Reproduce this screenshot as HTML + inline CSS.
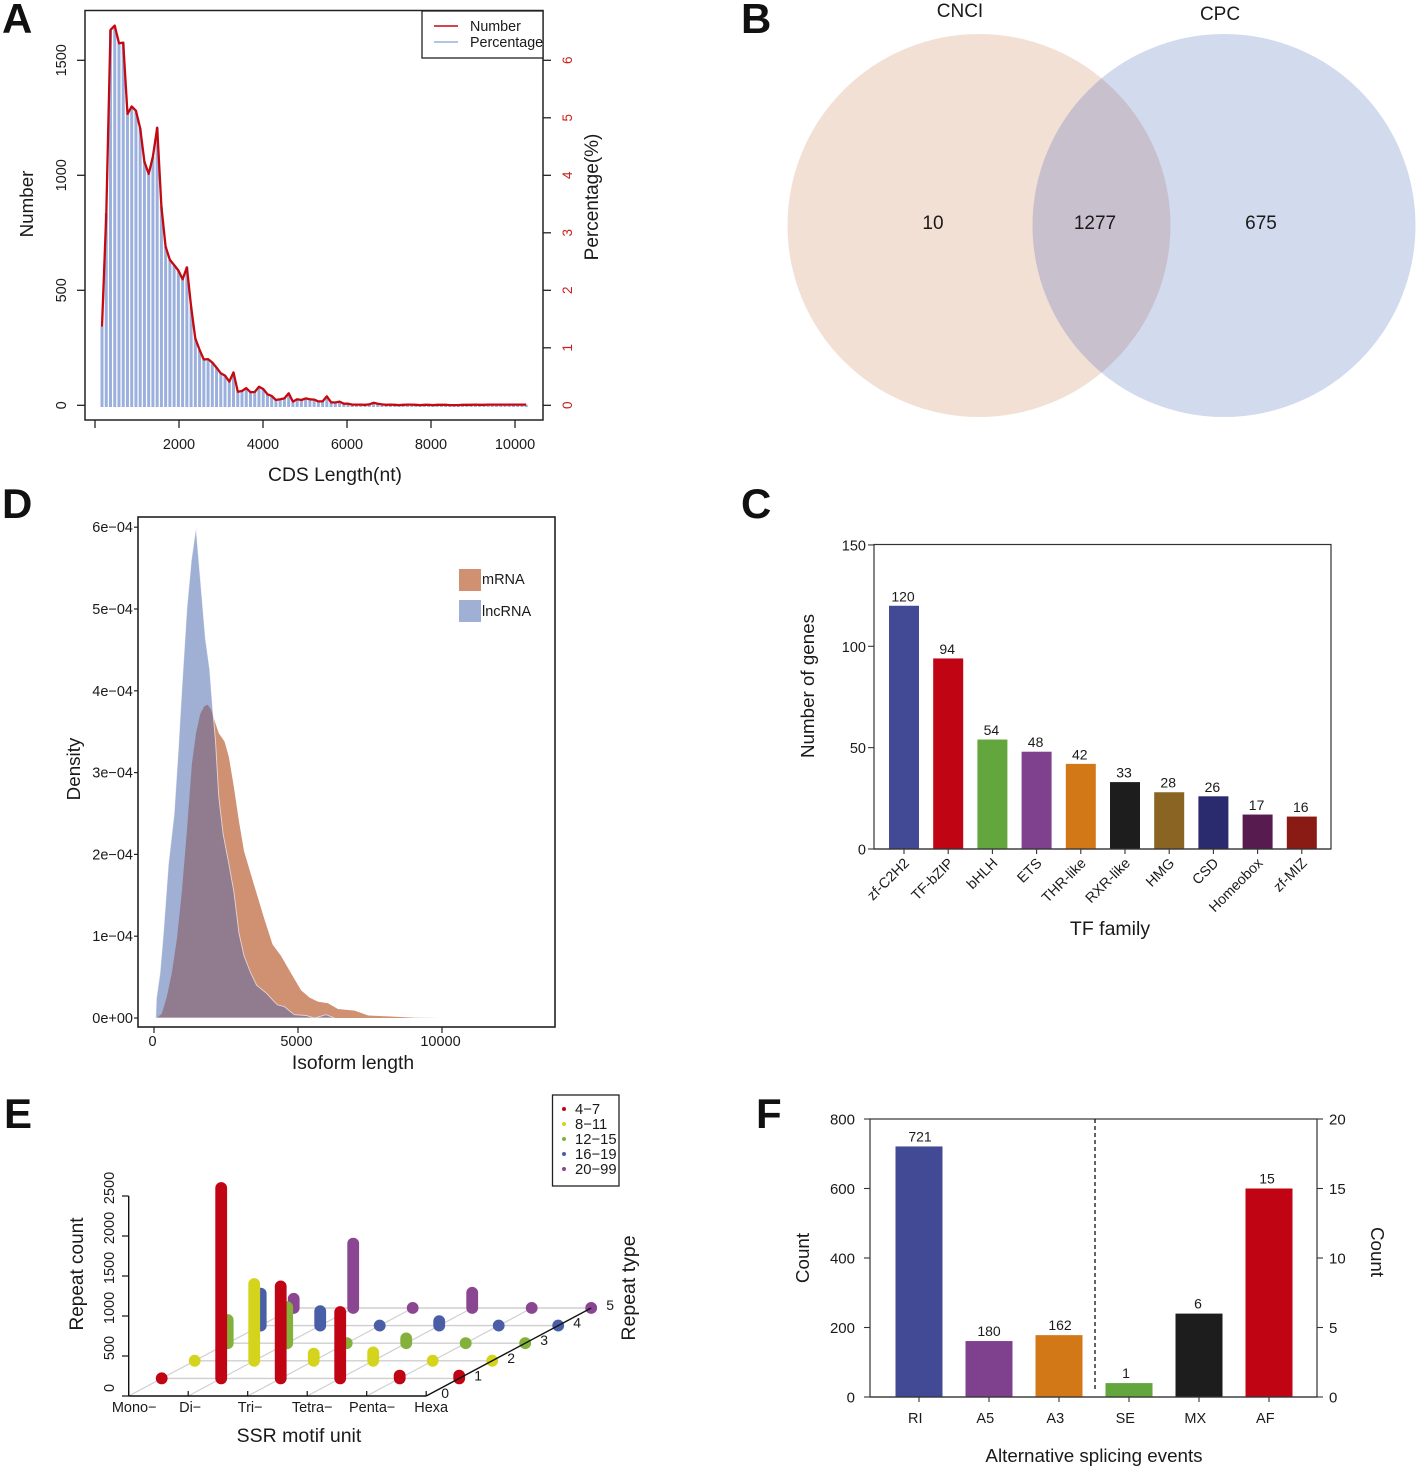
<!DOCTYPE html>
<html lang="en">
<head>
<meta charset="utf-8">
<title>Transcript analysis figure</title>
<style>
html,body{margin:0;padding:0;background:#fff;width:1418px;height:1469px;overflow:hidden}
svg{display:block}
text{font-family:"Liberation Sans",Arial,sans-serif;fill:#1a1a1a}
.letter{font-size:42px;font-weight:700;fill:#111}
</style>
</head>
<body>
<svg id="fig" xmlns="http://www.w3.org/2000/svg" width="1418" height="1469" viewBox="0 0 1418 1469">
  <defs>
    <clipPath id="venn-left-clip"><circle cx="979" cy="225.500" r="191.500"/></clipPath>
  </defs>
  <rect x="0" y="0" width="1418" height="1469" fill="#fff"/>

  <text class="letter" x="2" y="33">A</text>
  <text class="letter" x="741" y="33">B</text>
  <text class="letter" x="741" y="518">C</text>
  <text class="letter" x="2" y="518">D</text>
  <text class="letter" x="4" y="1128">E</text>
  <text class="letter" x="756" y="1128">F</text>

  <g id="panel-a"></g>

  <g id="panel-b">
    <circle cx="979" cy="225.500" r="191.500" fill="#f2e0d5"/>
    <circle cx="1224" cy="225.500" r="191.500" fill="#d2daee"/>
    <circle cx="1224" cy="225.500" r="191.500" fill="#c9c0cd" clip-path="url(#venn-left-clip)"/>
    <text x="960" y="17" font-size="19" text-anchor="middle">CNCI</text>
    <text x="1220" y="20" font-size="19" text-anchor="middle">CPC</text>
    <text x="933" y="229" font-size="19" text-anchor="middle">10</text>
    <text x="1095" y="229" font-size="19" text-anchor="middle">1277</text>
    <text x="1261" y="229" font-size="19" text-anchor="middle">675</text>
  </g>

  <g id="panel-c"></g>
  <g id="panel-d"></g>
  <g id="panel-e"></g>
  <g id="panel-f"></g>
</svg>

<script>
/* ---------- Panel A data ---------- */
const cdsNumber = [342,835,1632,1651,1574,1577,1267,1299,1281,1204,1059,1006,1081,1207,864,690,632,610,586,548,600,429,291,241,199,201,186,164,139,129,103,143,59,62,75,57,58,81,71,48,41,23,26,30,52,16,26,23,30,26,25,17,17,39,13,12,16,7,7,3,3,3,2,4,11,7,4,2,3,2,1,2,3,3,2,1,2,2,1,2,2,2,1,1,1,2,2,2,3,2,2,3,3,3,3,3,3,3,3,3,3];
const cdsPercent = [1.37,3.34,6.53,6.60,6.30,6.31,5.07,5.20,5.12,4.82,4.24,4.02,4.32,4.83,3.46,2.76,2.53,2.44,2.34,2.19,2.40,1.72,1.16,.96,.80,.80,.74,.66,.56,.52,.41,.57,.24,.25,.30,.23,.23,.32,.28,.19,.16,.09,.10,.12,.21,.06,.10,.09,.12,.10,.10,.07,.07,.16,.05,.05,.06,.03,.03,.01,.01,.01,.01,.02,.04,.03,.02,.01,.01,.01,.01,.01,.01,.01,.01,.01,.01,.01,.01,.01,.01,.01,.01,.01,.01,.01,.01,.01,.01,.01,.01,.01,.01,.01,.01,.01,.01,.01,.01,.01,.01];
const cdsStart = 167;
const cdsStep = 101;
const cdsXTicks = [0,2000,4000,6000,8000,10000];
const cdsXTickLabels = ["","2000","4000","6000","8000","10000"];
const cdsLeftTicks = [0,500,1000,1500];
const cdsRightTicks = [0,1,2,3,4,5,6];

/* ---------- Panel C data ---------- */
const tfFamilies = ["zf-C2H2","TF-bZIP","bHLH","ETS","THR-like","RXR-like","HMG","CSD","Homeobox","zf-MIZ"];
const tfCounts = [120,94,54,48,42,33,28,26,17,16];
const tfColors = ["#424a95","#c00414","#63a63e","#7f418e","#d37816","#1d1d1d","#8a6423","#2a2a6e","#571b50","#8a1a14"];
const tfYTicks = [0,50,100,150];

/* ---------- Panel D data ---------- */
const lncLength = [60,82,210,326,501,699,851,967,1142,1294,1457,1608,1783,1935,2051,2133,2249,2401,2599,2774,2949,3124,3357,3566,3881,4172,4289,4522,4872,5280,5571,5979,6270];
const lncDensity = [0,.24,.55,1.04,1.88,2.49,3.32,4.02,5.01,5.59,6.0,5.38,4.64,4.26,3.72,3.40,2.70,2.25,1.88,1.54,1.04,.76,.55,.40,.31,.20,.16,.14,.04,.03,0,.04,0];
const mrnaLength = [82,268,443,618,793,967,1142,1317,1457,1608,1748,1865,1981,2098,2249,2448,2599,2774,2949,3124,3473,3823,4114,4406,4755,5105,5396,5688,6037,6387,6970,7436,8135,9068,9942];
const mrnaDensity = [0,.05,.26,.55,.96,1.54,2.29,3.11,3.48,3.72,3.81,3.83,3.77,3.64,3.48,3.38,3.19,2.82,2.41,2.04,1.63,1.22,.90,.76,.55,.34,.25,.20,.18,.11,.09,.03,.02,.004,0];
const densityYTicks = [0,1,2,3,4,5,6];
const densityYLabels = ["0e+00","1e\u221204","2e\u221204","3e\u221204","4e\u221204","5e\u221204","6e\u221204"];
const densityXTicks = [0,5000,10000];

/* ---------- Panel E data ---------- */
const ssrMotifs = ["Mono\u2212","Di\u2212","Tri\u2212","Tetra\u2212","Penta\u2212","Hexa"];
const ssrZTicks = [0,500,1000,1500,2000,2500];
const ssrTypeLabels = ["4\u22127","8\u221211","12\u221215","16\u221219","20\u221299"];
const ssrColors = ["#c00414","#d4d41c","#84b03c","#4a5ea8","#8a4690"];
const ssrType1 = [0,2380,1150,830,35,35];
const ssrType2 = [0,960,90,105,0,0];
const ssrType3 = [290,450,0,60,0,0];
const ssrType4 = [400,180,0,55,0,0];
const ssrType5 = [115,805,0,190,0,0];
const ssrDepthTicks = [0,1,2,3,4,5];

/* ---------- Panel F data ---------- */
const spliceEvents = ["RI","A5","A3","SE","MX","AF"];
const spliceLeftValues = [721,161,178];
const spliceRightValues = [1,6,15];
const spliceLabels = ["721","180","162","1","6","15"];
const spliceColors = ["#424a95","#7f418e","#d37816","#63a63e","#1d1d1d","#c00414"];
const spliceLeftTicks = [0,200,400,600,800];
const spliceRightTicks = [0,5,10,15,20];

const NS = "http://www.w3.org/2000/svg";
function mk(tag, attrs, parent, txt) {
  const n = document.createElementNS(NS, tag);
  for (const k in attrs) n.setAttribute(k, attrs[k]);
  if (txt !== undefined) n.textContent = txt;
  parent.appendChild(n);
  return n;
}
function named(el, name) {
  
  
  return el;
}
function vtext(x, y, str, size, parent, fill) {
  return mk('text', {x:0, y:0, transform:`translate(${x} ${y}) rotate(-90)`, 'font-size':size, 'text-anchor':'middle', fill:fill||'#1a1a1a', style:fill?`fill:${fill}`:''}, parent, str);
}
function hline(p, x1, y1, x2, y2, color, w) {
  return mk('line', {x1, y1, x2, y2, stroke:color, 'stroke-width':w}, p);
}

/* ========== Panel A ========== */
(function(){
  const p = document.getElementById('panel-a');
  const x = v => 95 + v * 0.042;
  const yL = v => 405.3 - v * 0.23;
  const yR = v => 405.3 - v * 57.5;
  cdsPercent.forEach((v,i) => {
    const cx = x(cdsStart + cdsStep * i);
    const r = mk('rect', {x:cx-1.5, y:yR(v), width:3, height:407-yR(v), fill:'#9bb0dc'}, p);
    
    
  });
  const pts = cdsNumber.map((v,i) => x(cdsStart + cdsStep * i).toFixed(1) + ',' + yL(v).toFixed(1)).join(' ');
  const line = mk('polyline', {points:pts, fill:'none', stroke:'#c40a10', 'stroke-width':2.3, 'stroke-linejoin':'round'}, p);
  
  
  const box = mk('rect', {x:85, y:10.500, width:458, height:409.500, fill:'none', stroke:'#222', 'stroke-width':1.5}, p);
  
  
  cdsXTicks.forEach((v,i) => {
    const t = hline(p, x(v), 420, x(v), 428, '#222', 1.3);
    
    
    const l = mk('text', {x:x(v), y:449, 'font-size':14.5, 'text-anchor':'middle'}, p, cdsXTickLabels[i]);
    
    
  });
  cdsLeftTicks.forEach(v => {
    const t = hline(p, 77, yL(v), 85, yL(v), '#222', 1.3);
    
    
    const l = vtext(66, yL(v), String(v), 14.5, p);
    
    
  });
  cdsRightTicks.forEach(v => {
    const t = hline(p, 543, yR(v), 551, yR(v), '#222', 1.3);
    
    
    const l = vtext(572, yR(v), String(v), 13.5, p, '#c8201a');
    
    
  });
  named(vtext(33, 204, 'Number', 18.8, p), 'left-y-axis-title');
  named(vtext(598, 197, 'Percentage(%)', 19, p), 'right-y-axis-title');
  named(mk('text', {x:335, y:481, 'font-size':19.3, 'text-anchor':'middle'}, p, 'CDS Length(nt)'), 'x-axis-title');
  named(mk('rect', {x:422, y:11, width:121, height:47, fill:'#fff', stroke:'#222', 'stroke-width':1.3}, p), 'legend-box');
  named(hline(p, 434, 26, 458, 26, '#c40a10', 1.5), 'legend-line-number');
  named(hline(p, 434, 42, 458, 42, '#9bb0dc', 1.5), 'legend-line-percentage');
  named(mk('text', {x:470, y:31, 'font-size':14.3}, p, 'Number'), 'legend-label-number');
  named(mk('text', {x:470, y:47, 'font-size':14.3}, p, 'Percentage'), 'legend-label-percentage');
})();

/* ========== Panel C ========== */
(function(){
  const p = document.getElementById('panel-c');
  const y = v => 849 - v * 2.027;
  const x = i => 904 + i * 44.2;
  named(mk('rect', {x:874, y:544.500, width:457, height:304.500, fill:'none', stroke:'#333', 'stroke-width':1.2}, p), 'plot-frame');
  tfCounts.forEach((v,i) => {
    const r = mk('rect', {x:x(i)-15, y:y(v), width:30, height:849-y(v), fill:tfColors[i]}, p);
    
    
    const t = mk('text', {x:x(i)-1, y:y(v)-4.5, 'font-size':14, 'text-anchor':'middle'}, p, String(v));
    
    
    const k = hline(p, x(i), 849, x(i), 854, '#333', 1.1);
    
    
    const c = mk('text', {x:0, y:0, transform:`translate(${x(i)+6} ${864}) rotate(-45)`, 'font-size':14.3, 'text-anchor':'end'}, p, tfFamilies[i]);
    
    
  });
  hline(p, 874, 849, 1331, 849, '#333', 1.3);
  tfYTicks.forEach(v => {
    const k = hline(p, 868, y(v), 874, y(v), '#333', 1.1);
    
    
    const l = mk('text', {x:866, y:y(v)+5.5, 'font-size':14.5, 'text-anchor':'end'}, p, String(v));
    
    
  });
  named(vtext(814, 686, 'Number of genes', 18.8, p), 'y-axis-title');
  named(mk('text', {x:1110, y:935, 'font-size':19.5, 'text-anchor':'middle'}, p, 'TF family'), 'x-axis-title');
})();

/* ========== Panel D ========== */
(function(){
  const p = document.getElementById('panel-d');
  const x = v => 154 + v * 0.0288;
  const y = v => 1018 - v * 81.8;
  const pathOf = (xs, ys) => 'M' + x(xs[0]).toFixed(1) + ',' + y(0).toFixed(1) + ' L' + xs.map((v,i) => x(v).toFixed(1) + ',' + y(ys[i]).toFixed(1)).join(' L') + ' L' + x(xs[xs.length-1]).toFixed(1) + ',' + y(0).toFixed(1) + ' Z';
  const defs = mk('defs', {}, p);
  const clip = mk('clipPath', {id:'lnc-clip'}, defs);
  mk('path', {d:pathOf(lncLength, lncDensity)}, clip);
  const mrnaPath = pathOf(mrnaLength, mrnaDensity);
  const lncPath = pathOf(lncLength, lncDensity);
  named(mk('path', {d:mrnaPath, fill:'#d09072'}, p), 'mrna-density-area');
  named(mk('path', {d:lncPath, fill:'#a0b0d4'}, p), 'lncrna-density-area');
  named(mk('path', {d:mrnaPath, fill:'#917c8f', 'clip-path':'url(#lnc-clip)'}, p), 'density-overlap-area');
  const edge = mk('path', {d:lncPath, fill:'none', stroke:'#fff', 'stroke-opacity':.65, 'stroke-width':.9}, p);
  named(edge, 'lncrna-density-edge');
  named(mk('rect', {x:138, y:517, width:417, height:510, fill:'none', stroke:'#222', 'stroke-width':1.6}, p), 'plot-frame');
  densityYTicks.forEach((v,i) => {
    const k = hline(p, 134, y(v), 138, y(v), '#222', 1.2);
    
    
    const l = mk('text', {x:133, y:y(v)+5, 'font-size':14.5, 'text-anchor':'end'}, p, densityYLabels[i]);
    
    
  });
  densityXTicks.forEach(v => {
    const k = hline(p, x(v), 1027, x(v), 1033, '#222', 1.2);
    
    
    const l = mk('text', {x:x(v)-1.5, y:1046, 'font-size':14.5, 'text-anchor':'middle'}, p, String(v));
    
    
  });
  named(vtext(80, 769, 'Density', 18.8, p), 'y-axis-title');
  named(mk('text', {x:353, y:1069, 'font-size':19.3, 'text-anchor':'middle'}, p, 'Isoform length'), 'x-axis-title');
  named(mk('rect', {x:459, y:569, width:22, height:22, fill:'#d09072'}, p), 'legend-swatch-mrna');
  named(mk('rect', {x:459, y:600, width:22, height:22, fill:'#a0b0d4'}, p), 'legend-swatch-lncrna');
  named(mk('text', {x:482, y:584, 'font-size':14.5}, p, 'mRNA'), 'legend-label-mrna');
  named(mk('text', {x:482, y:616, 'font-size':14.5}, p, 'lncRNA'), 'legend-label-lncrna');
})();

/* ========== Panel E ========== */
(function(){
  const p = document.getElementById('panel-e');
  const sx = (c, r) => 128.7 + c * 59.5 + r * 33;
  const sy = r => 1396 - r * 17.6;
  const z = v => v * 0.08;
  const rows = [ssrType1, ssrType2, ssrType3, ssrType4, ssrType5];
  ssrDepthTicks.slice(1).forEach(r => {
    const g = hline(p, sx(0,r), sy(r), sx(5,r), sy(r), '#cfcfcf', 1.4);
    
    
  });
  ssrMotifs.forEach((m,c) => {
    if (c < 5) {
      const g = hline(p, sx(c,0), sy(0), sx(c,5), sy(5), '#cfcfcf', 1.2);
      
      
    }
  });
  for (let r = 4; r >= 0; r--) {
    rows[r].forEach((v,c) => {
      const bx = sx(c, r+1), by = sy(r+1);
      const b = hline(p, bx, by, bx, by - Math.max(z(v), .1), ssrColors[r], 11.8);
      b.setAttribute('stroke-linecap', 'round');
      
      
    });
  }
  named(hline(p, 128.7, 1396, 426.200, 1396, '#111', 1.4), 'x-axis-line');
  named(hline(p, 128.7, 1396, 128.7, 1396 - z(2500), '#111', 1.4), 'z-axis-line');
  named(hline(p, sx(5,0), sy(0), sx(5,5), sy(5), '#111', 1.4), 'depth-axis-line');
  ssrZTicks.forEach(v => {
    const k = hline(p, 122, 1396 - z(v), 128.7, 1396 - z(v), '#111', 1.2);
    
    
    const l = vtext(114, 1396 - z(v) - 8, String(v), 14.5, p);
    
    
  });
  const motifOffsets = [5.500, 2, 2.500, 5, 5.500, 5];
  ssrMotifs.forEach((m,c) => {
    const k = hline(p, sx(c,0), 1396, sx(c,0), 1391, '#111', 1.2);
    
    
    const l = mk('text', {x:sx(c,0) + motifOffsets[c], y:1412, 'font-size':14.5, 'text-anchor':'middle'}, p, m);
    
    
  });
  ssrDepthTicks.forEach(r => {
    const l = mk('text', {x:sx(5,r) + 19, y:sy(r) + 2, 'font-size':14, 'text-anchor':'middle'}, p, String(r));
    
    
  });
  named(vtext(83, 1274, 'Repeat count', 19, p), 'z-axis-title');
  named(vtext(635, 1288, 'Repeat type', 19.5, p), 'depth-axis-title');
  named(mk('text', {x:299, y:1442, 'font-size':19.5, 'text-anchor':'middle'}, p, 'SSR motif unit'), 'x-axis-title');
  named(mk('rect', {x:552.500, y:1095, width:66.500, height:91, fill:'#fff', stroke:'#222', 'stroke-width':1.3}, p), 'legend-box');
  ssrTypeLabels.forEach((s,i) => {
    const d = mk('circle', {cx:564, cy:1109 + i*15, r:2, fill:ssrColors[i]}, p);
    
    
    const t = mk('text', {x:575, y:1114 + i*15, 'font-size':14.8}, p, s);
    
    
  });
})();

/* ========== Panel F ========== */
(function(){
  const p = document.getElementById('panel-f');
  const x = i => 919 + i * 70;
  const yL = v => 1397 - v * 0.3475;
  const yR = v => 1397 - v * 13.9;
  const tops = spliceLeftValues.map(yL).concat(spliceRightValues.map(yR));
  const labelShift = [1, 0, 1, -3, -1, -2];
  named(mk('rect', {x:870, y:1119, width:447, height:278, fill:'none', stroke:'#333', 'stroke-width':1.2}, p), 'plot-frame');
  const dash = hline(p, 1095, 1119, 1095, 1392, '#111', 1.3);
  dash.setAttribute('stroke-dasharray', '4 3');
  named(dash, 'divider-dashed-line');
  spliceEvents.forEach((e,i) => {
    const r = mk('rect', {x:x(i)-23.5, y:tops[i], width:47, height:1397-tops[i], fill:spliceColors[i]}, p);
    
    
    const t = mk('text', {x:x(i)+labelShift[i], y:tops[i]-5, 'font-size':14, 'text-anchor':'middle'}, p, spliceLabels[i]);
    
    
    const k = hline(p, x(i), 1397, x(i), 1402, '#333', 1.1);
    
    
    const l = mk('text', {x:x(i)-3.7, y:1423, 'font-size':14.5, 'text-anchor':'middle'}, p, e);
    
    
  });
  hline(p, 870, 1397, 1317, 1397, '#333', 1.3);
  spliceLeftTicks.forEach(v => {
    const k = hline(p, 864, yL(v), 870, yL(v), '#333', 1.1);
    
    
    const l = mk('text', {x:855, y:yL(v)+5.5, 'font-size':15, 'text-anchor':'end'}, p, String(v));
    
    
  });
  spliceRightTicks.forEach(v => {
    const k = hline(p, 1317, yR(v), 1323, yR(v), '#333', 1.1);
    
    
    const l = mk('text', {x:1329, y:yR(v)+5.5, 'font-size':15}, p, String(v));
    
    
  });
  named(vtext(809, 1258, 'Count', 18.8, p), 'left-y-axis-title');
  const rc = mk('text', {x:0, y:0, transform:'translate(1371 1252) rotate(90)', 'font-size':18.8, 'text-anchor':'middle'}, p, 'Count');
  named(rc, 'right-y-axis-title');
  named(mk('text', {x:1094, y:1462, 'font-size':18.8, 'text-anchor':'middle'}, p, 'Alternative splicing events'), 'x-axis-title');
})();
</script>
</body>
</html>
